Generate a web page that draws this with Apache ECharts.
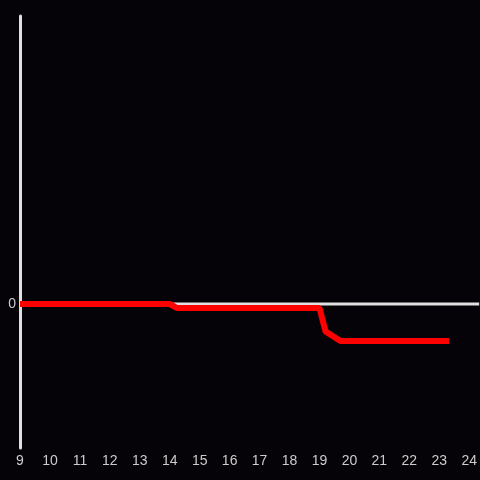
<!DOCTYPE html>
<html>
<head>
<meta charset="utf-8">
<script src="https://cdn.jsdelivr.net/npm/echarts@6/dist/echarts.min.js"></script>
<style>
  html, body { margin: 0; padding: 0; background: #050307; }
  #chart { width: 480px; height: 480px; }
</style>
</head>
<body>
<div id="chart"></div>
<script>
// data
const xValues = [9, 14, 14.25, 19, 19.2, 19.7, 23.33];
const yValues = [0, 0, -0.028, -0.028, -0.19, -0.257, -0.257];

const myChart = echarts.init(document.getElementById("chart"));
myChart.setOption({
  backgroundColor: "#050307",
  animation: false,
  grid: { left: 20, right: 0, top: 16, bottom: 32 },
  xAxis: {
    type: "value",
    min: 9,
    max: 24.333,
    interval: 1,
    axisLine: { show: false },
    axisTick: { show: false },
    splitLine: { show: false },
    axisLabel: {
      color: "#cccccc",
      fontSize: 14,
      margin: 6,
      showMaxLabel: false,
      formatter: (v) => (Number.isInteger(v) ? String(v) : ""),
    },
  },
  yAxis: {
    type: "value",
    min: -1,
    max: 2,
    interval: 1,
    axisLine: { show: true, onZero: false, lineStyle: { color: "#e0e0e0", width: 3 } },
    axisTick: { show: false },
    splitLine: { show: false },
    axisLabel: {
      color: "#cccccc",
      fontSize: 14,
      margin: 4,
      formatter: (v) => (v === 0 ? "0" : ""),
    },
  },
  series: [
    {
      type: "line",
      data: [[9, 0], [24.333, 0]],
      symbol: "none",
      silent: true,
      z: 1,
      lineStyle: { color: "#e0e0e0", width: 3 },
    },
    {
      type: "line",
      data: xValues.map((x, i) => [x, yValues[i]]),
      symbol: "none",
      z: 2,
      lineStyle: { color: "#ff0000", width: 6 },
    },
  ],
});
</script>
</body>
</html>
